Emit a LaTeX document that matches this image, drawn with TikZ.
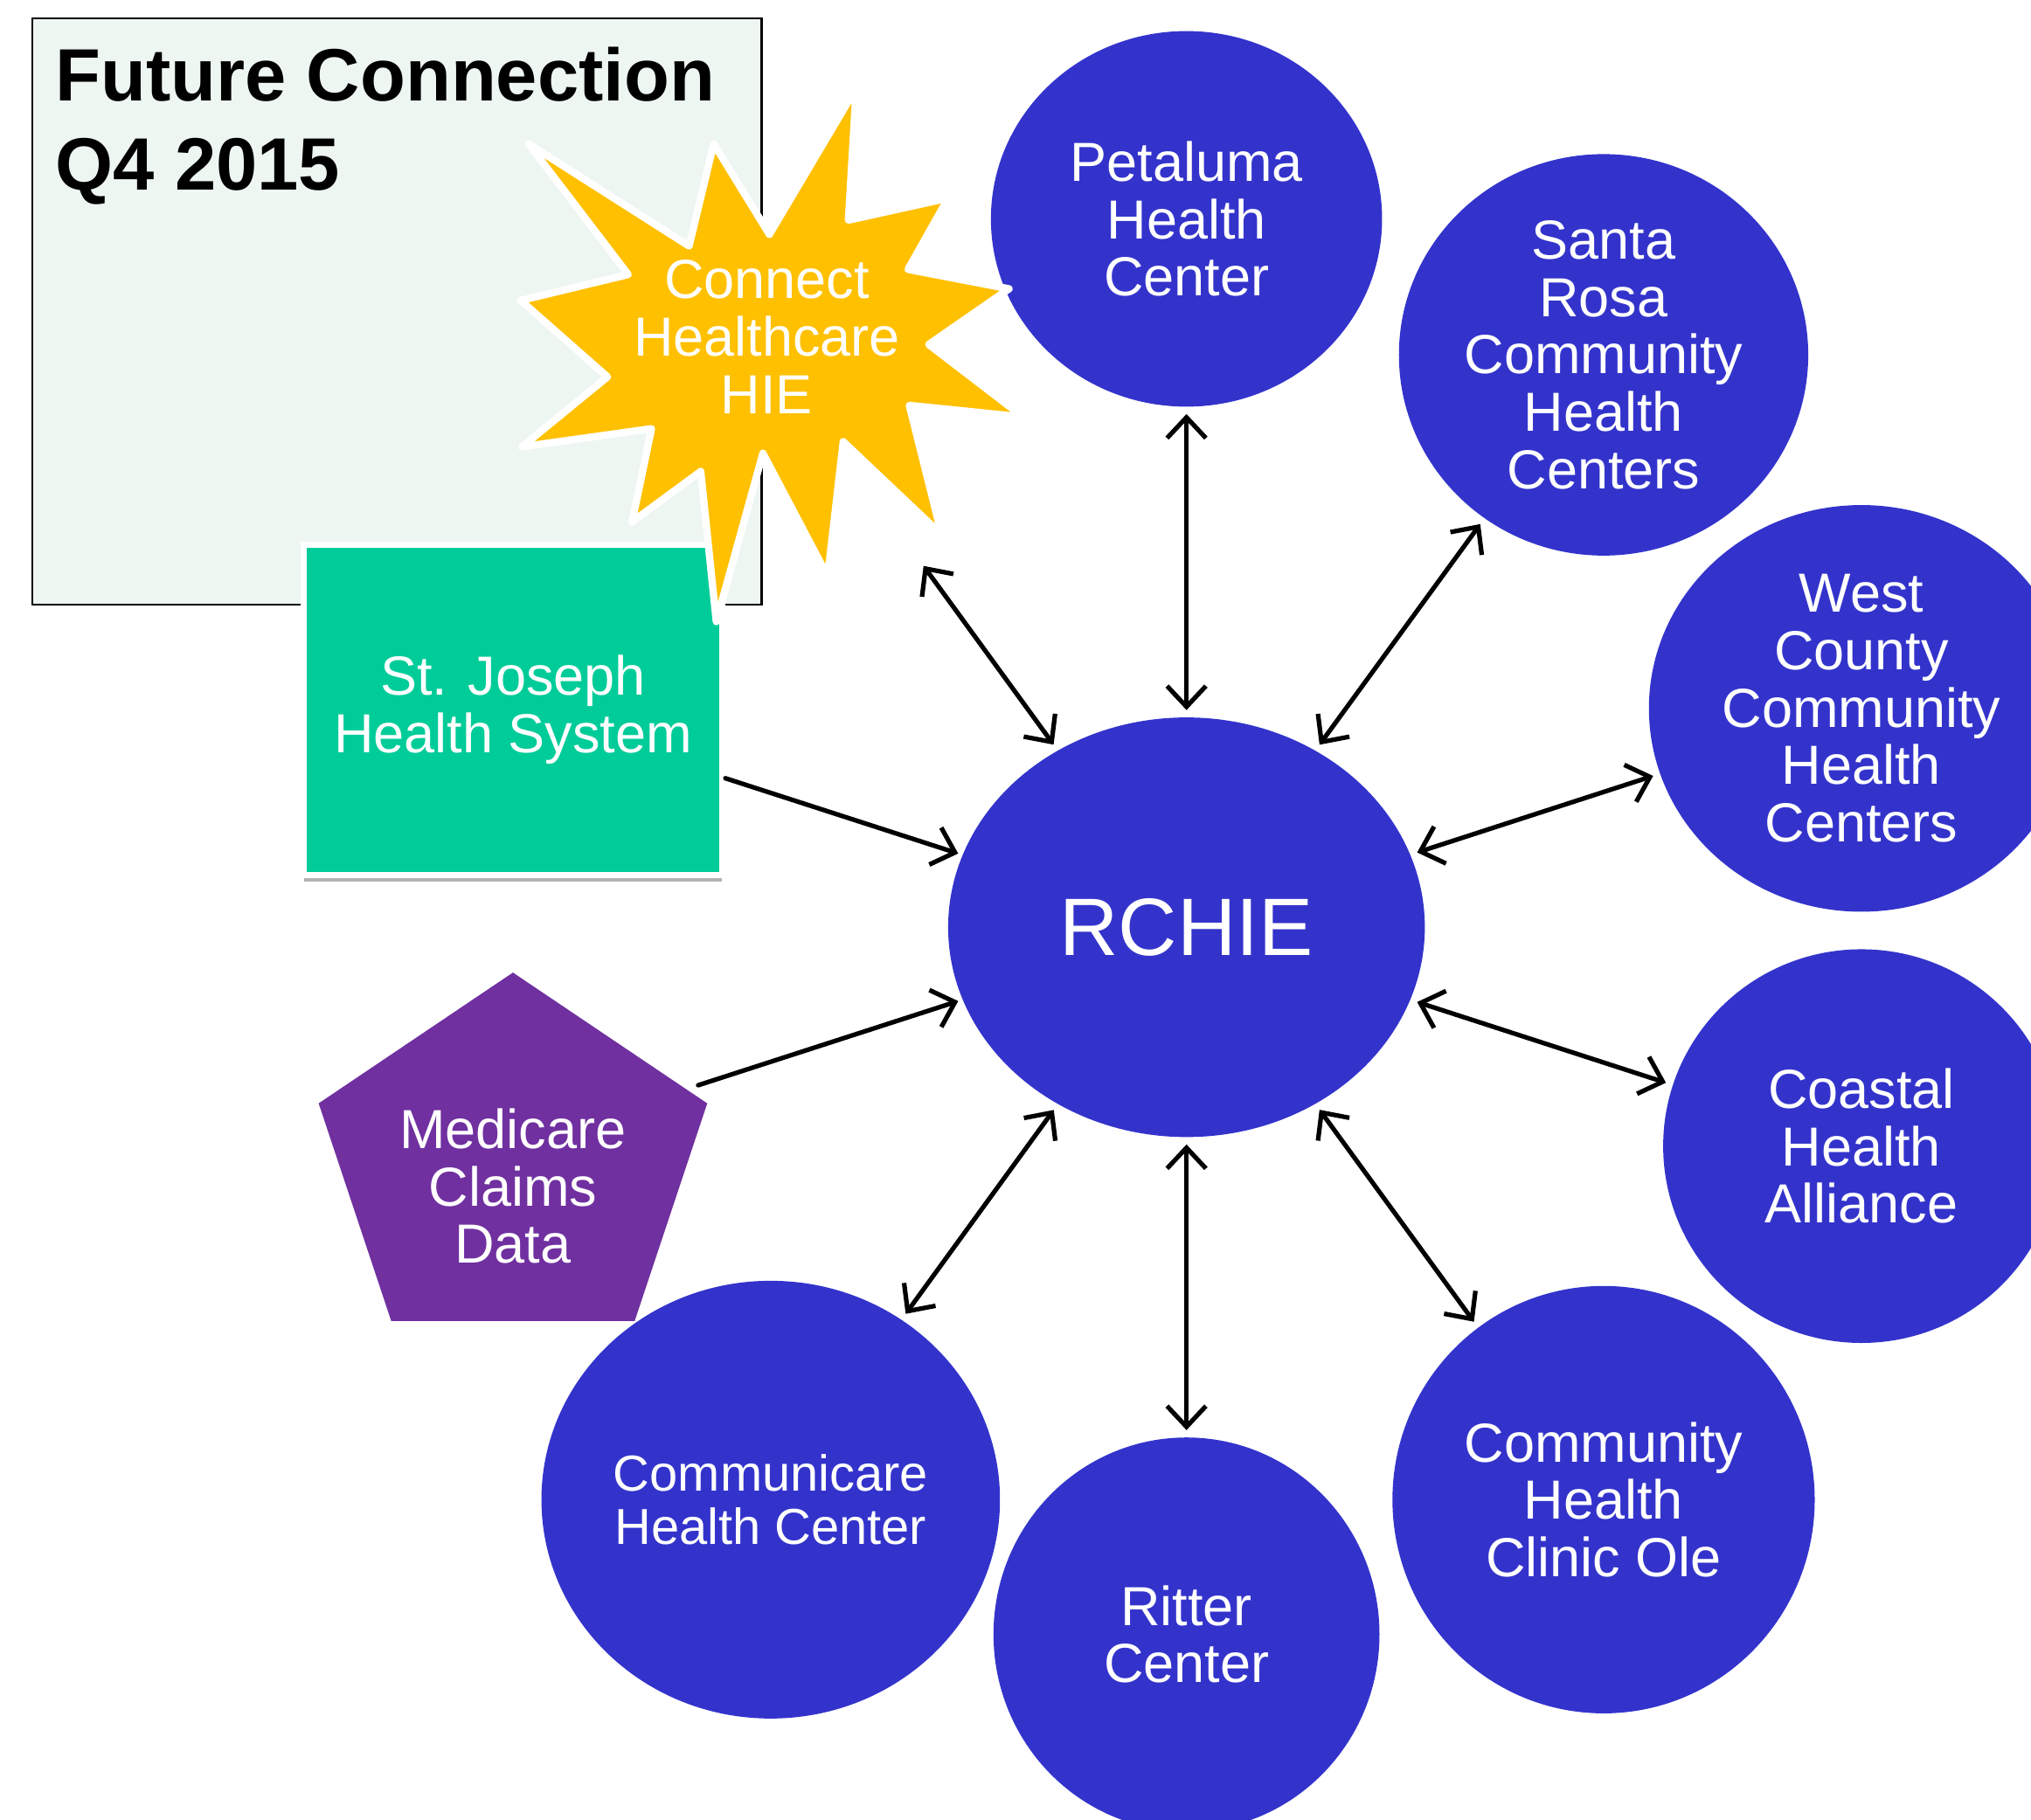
\documentclass[tikz,border=0pt]{standalone}
\usepackage{fontspec}
\setmainfont{Liberation Sans}
\usepackage{tikz}
\usetikzlibrary{arrows.meta, shapes.geometric, shadows}

\definecolor{hubblue}{HTML}{3333CC}
\definecolor{stargold}{HTML}{FFC000}
\definecolor{sjgreen}{HTML}{00CC99}
\definecolor{mcpurple}{HTML}{7030A0}
\definecolor{futuremint}{HTML}{EEF6F1}

\newcommand{\bodyfont}{\fontsize{12.1}{12.6}\selectfont}

\begin{document}
\begin{tikzpicture}[line cap=round,
    org/.style={ellipse, fill=hubblue, text=white, inner sep=0pt, align=center, font=\bodyfont},
    link/.style={line width=1pt, {Straight Barb[length=1.6mm,width=3mm]}-{Straight Barb[length=1.6mm,width=3mm]},
        shorten <=0.05cm, shorten >=0.05cm},
    feed/.style={line width=1pt, -{Straight Barb[length=1.6mm,width=3mm]}, shorten >=0.03cm}]

    \useasboundingbox (0,0) rectangle (15.68,-14.05);
    \clip (0,0) rectangle (15.68,-14.05);

    % Future connection panel
    \draw[line width=0.4pt, fill=futuremint] (0.25,-0.14) rectangle (5.88,-4.67);
    \node[anchor=north west, inner sep=0pt, align=left,
        font=\fontsize{16.3}{19.5}\selectfont\bfseries] (future) at (0.42,-0.36)
        {Future Connection\\Q4 2015};

    % Medicare pentagon
    \fill[mcpurple] (3.96,-7.51) -- (5.46,-8.52) -- (4.90,-10.20)
        -- (3.02,-10.20) -- (2.46,-8.52) -- cycle;
    \node[text=white, align=center, font=\bodyfont] (medicare) at (3.96,-9.16)
        {Medicare\\Claims\\Data};
    \coordinate (medicareout) at (5.39,-8.38);

    % Hub and member organisations
    \node[org, minimum width=3.68cm, minimum height=3.24cm,
        font=\fontsize{17.9}{20}\selectfont] (rchie) at (9.16,-7.16) {RCHIE};
    \node[org, minimum width=3.02cm, minimum height=2.90cm] (petaluma) at (9.16,-1.69)
        {Petaluma\\Health\\Center};
    \node[org, minimum width=3.16cm, minimum height=3.10cm] (santarosa) at (12.38,-2.74)
        {Santa\\Rosa\\Community\\Health\\Centers};
    \node[org, minimum width=3.28cm, minimum height=3.14cm] (westcounty) at (14.37,-5.47)
        {West\\County\\Community\\Health\\Centers};
    \node[org, minimum width=3.06cm, minimum height=3.04cm] (coastal) at (14.37,-8.85)
        {Coastal\\Health\\Alliance};
    \node[org, minimum width=3.26cm, minimum height=3.30cm] (ole) at (12.38,-11.58)
        {Community\\Health\\Clinic Ole};
    \node[org, minimum width=2.98cm, minimum height=3.04cm] (ritter) at (9.16,-12.62)
        {Ritter\\Center};
    \node[org, minimum width=3.54cm, minimum height=3.38cm,
        font=\fontsize{11.1}{11.7}\selectfont] (communicare) at (5.95,-11.58)
        {Communicare\\Health Center};

    % St. Joseph box
    \node[draw=white, line width=1.4pt, fill=sjgreen, minimum width=3.23cm, minimum height=2.55cm,
        text=white, align=center, font=\bodyfont,
        drop shadow={shadow xshift=0pt, shadow yshift=-0.05cm, fill=black, opacity=0.3}]
        (stjoseph) at (3.96,-5.48) {St. Joseph\\Health System};

    % Connect Healthcare starburst
    \filldraw[draw=white, line width=1.6pt, line join=round, fill=stargold]
        (6.61,-0.68) -- (6.55,-1.70) -- (7.32,-1.53) -- (7.01,-2.08) -- (7.79,-2.23)
        -- (7.17,-2.66) -- (7.90,-3.22) -- (7.02,-3.13) -- (7.27,-4.13) -- (6.51,-3.41)
        -- (6.39,-4.45) -- (5.89,-3.50) -- (5.53,-4.80) -- (5.41,-3.64) -- (4.88,-4.03)
        -- (5.03,-3.31) -- (4.03,-3.45) -- (4.69,-2.91) -- (4.02,-2.32) -- (4.85,-2.12)
        -- (4.08,-1.11) -- (5.32,-1.90) -- (5.51,-1.11) -- (5.94,-1.81) -- cycle;
    \node[text=white, align=center, font=\bodyfont] (connect) at (5.92,-2.60)
        {Connect\\Healthcare\\HIE};
    \coordinate (connectout) at (7.13,-4.37);

    % Links to the hub
    \draw[link] (petaluma) -- (rchie);
    \draw[link] (santarosa) -- (rchie);
    \draw[link] (westcounty) -- (rchie);
    \draw[link] (coastal) -- (rchie);
    \draw[link] (ole) -- (rchie);
    \draw[link] (ritter) -- (rchie);
    \draw[link] (communicare) -- (rchie);
    \draw[link, shorten <=0pt] (connectout) -- (rchie);
    \draw[feed] (stjoseph) -- (rchie);
    \draw[feed] (medicareout) -- (rchie);
\end{tikzpicture}
\end{document}
